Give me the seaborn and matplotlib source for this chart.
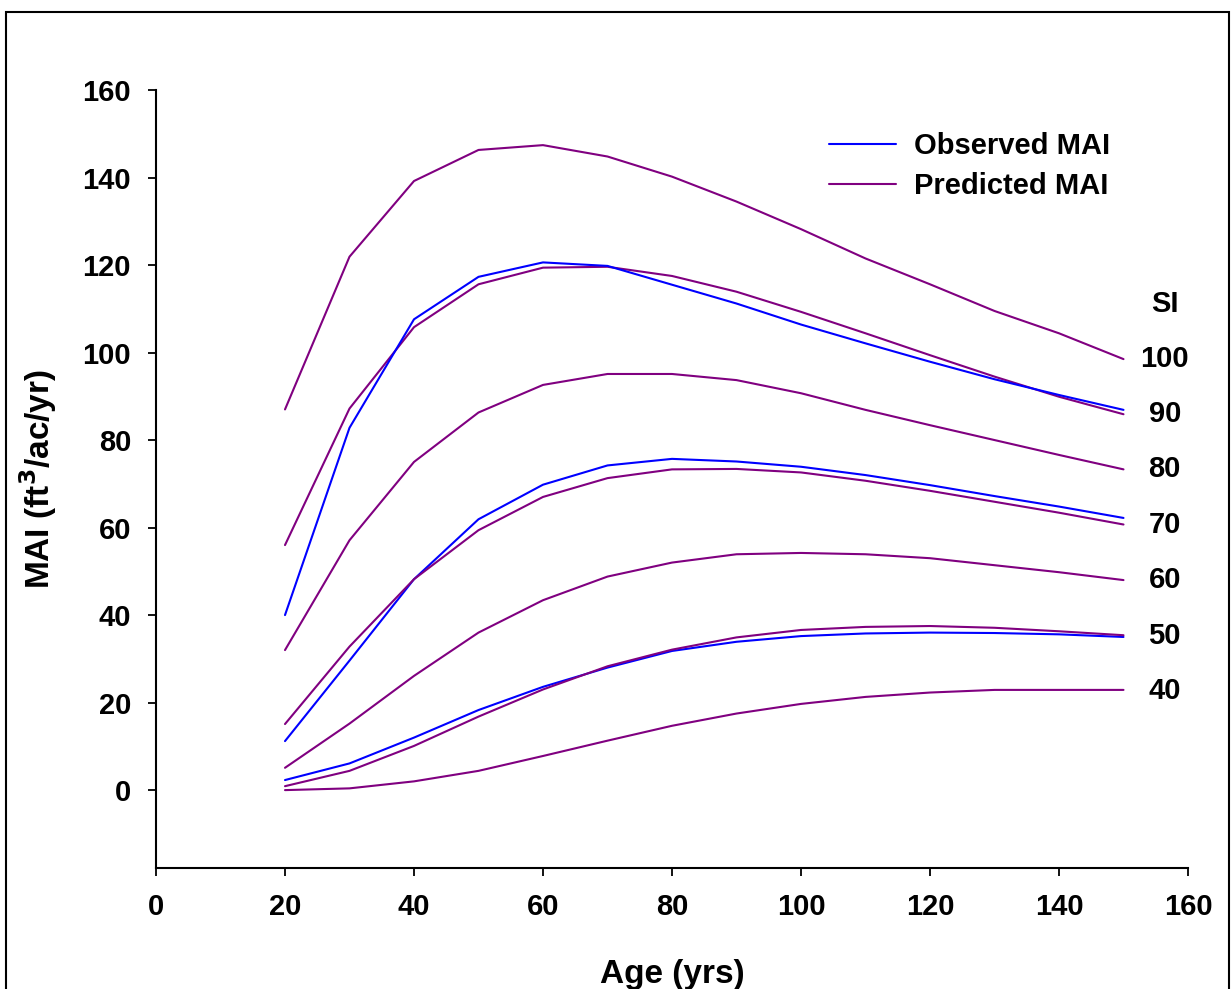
import matplotlib
matplotlib.use("Agg")
import matplotlib.pyplot as plt
import seaborn as sns
import pandas as pd
from matplotlib.lines import Line2D
from matplotlib.patches import Rectangle

ages = [20, 30, 40, 50, 60, 70, 80, 90, 100, 110, 120, 130, 140, 150]

pred_100 = [87.0, 121.9, 139.2, 146.3, 147.4, 144.8, 140.2, 134.5, 128.2, 121.5, 115.6, 109.5, 104.4, 98.5]
pred_90 = [56.0, 87.2, 105.8, 115.6, 119.4, 119.6, 117.5, 113.9, 109.3, 104.4, 99.4, 94.5, 89.9, 85.9]
obs_90 = [40.0, 82.8, 107.6, 117.3, 120.6, 119.8, 115.5, 111.2, 106.4, 102.1, 97.9, 93.9, 90.3, 86.9]
pred_80 = [32.0, 57.1, 75.0, 86.3, 92.6, 95.1, 95.1, 93.7, 90.7, 86.9, 83.4, 80.0, 76.6, 73.3]
obs_70 = [11.2, 29.6, 48.2, 61.9, 69.8, 74.2, 75.7, 75.1, 73.9, 72.0, 69.7, 67.2, 64.8, 62.2]
pred_70 = [15.1, 32.8, 48.2, 59.4, 67.0, 71.3, 73.3, 73.4, 72.6, 70.7, 68.4, 65.9, 63.4, 60.7]
pred_60 = [5.1, 15.2, 26.1, 36.0, 43.4, 48.8, 52.0, 53.9, 54.2, 53.9, 53.0, 51.4, 49.8, 48.0]
obs_50 = [2.3, 6.1, 12.0, 18.3, 23.6, 28.0, 31.8, 33.9, 35.2, 35.8, 36.0, 35.9, 35.6, 35.0]
pred_50 = [0.9, 4.4, 10.1, 16.8, 23.0, 28.3, 32.1, 34.9, 36.6, 37.3, 37.5, 37.1, 36.3, 35.4]
pred_40 = [0.0, 0.4, 2.0, 4.4, 7.8, 11.3, 14.7, 17.5, 19.7, 21.3, 22.3, 22.9, 22.9, 22.9]

si_labels = ["SI", "100", "90", "80", "70", "60", "50", "40"]
si_label_y = [111.0, 98.5, 86.0, 73.3, 60.6, 48.0, 35.3, 22.6]

x_ticks = [0, 20, 40, 60, 80, 100, 120, 140, 160]
y_ticks = [0, 20, 40, 60, 80, 100, 120, 140, 160]

series = [
    ("Predicted", "100", pred_100),
    ("Predicted", "90", pred_90),
    ("Observed", "90", obs_90),
    ("Predicted", "80", pred_80),
    ("Observed", "70", obs_70),
    ("Predicted", "70", pred_70),
    ("Predicted", "60", pred_60),
    ("Observed", "50", obs_50),
    ("Predicted", "50", pred_50),
    ("Predicted", "40", pred_40),
]

rows = []
for kind, si, vals in series:
    for a, v in zip(ages, vals):
        rows.append({"Age": a, "MAI": v, "kind": kind, "key": f"{kind} {si}"})
df = pd.DataFrame(rows)

BLUE = "#0000FF"
PURPLE = "#800080"
palette = {k: (BLUE if k.startswith("Observed") else PURPLE) for k in df["key"].unique()}

sns.set_style("ticks")
plt.rcParams["font.family"] = ["Liberation Sans", "DejaVu Sans"]
plt.rcParams["font.weight"] = "bold"
plt.rcParams["text.color"] = "black"
plt.rcParams["axes.labelcolor"] = "black"
plt.rcParams["xtick.color"] = "black"
plt.rcParams["ytick.color"] = "black"

fig = plt.figure(figsize=(12.31, 9.89), dpi=100)
ax = fig.add_axes([156 / 1231, 1 - 868 / 989, (1188 - 156) / 1231, (868 - 90) / 989])

sns.lineplot(data=df, x="Age", y="MAI", hue="key", palette=palette,
             estimator=None, sort=False, linewidth=1.5, legend=False, ax=ax)

ax.set_xlim(0, 160)
ax.set_ylim(-17.8, 160)
ax.set_xticks(x_ticks)
ax.set_yticks(y_ticks)
ax.tick_params(axis="both", direction="out", length=6, width=1.3, labelsize=21,
               pad=12, colors="black", labelcolor="black")
for lab in ax.get_xticklabels() + ax.get_yticklabels():
    lab.set_fontweight("bold")
for s in ["top", "right"]:
    ax.spines[s].set_visible(False)
for s in ["left", "bottom"]:
    ax.spines[s].set_linewidth(1.5)
    ax.spines[s].set_color("black")

ax.set_xlabel("Age (yrs)", fontsize=24, fontweight="bold", labelpad=27, color="black")
ax.set_ylabel("MAI (ft$^{\\mathbf{3}}$/ac/yr)", fontsize=24, fontweight="bold",
              labelpad=17, color="black")

for lab, yv in zip(si_labels, si_label_y):
    ax.text(156.4, yv, lab, ha="center", va="center", fontsize=21, fontweight="bold",
            color="black", clip_on=False)

handles = [Line2D([], [], color=BLUE, linewidth=1.5),
           Line2D([], [], color=PURPLE, linewidth=1.5)]
leg = ax.legend(handles, ["Observed MAI", "Predicted MAI"], loc="upper left",
                bbox_to_anchor=((829 - 156) / 1032, (868 - 132) / 778), frameon=False,
                prop={"weight": "bold", "size": 21}, handlelength=2.3,
                handletextpad=0.6, labelspacing=0.42, borderpad=0, borderaxespad=0)
for t in leg.get_texts():
    t.set_color("black")

fig.patches.append(Rectangle((6 / 1231, -0.05), (1229 - 6) / 1231, 1.05 - 12 / 989,
                             transform=fig.transFigure, fill=False, edgecolor="black",
                             linewidth=1.5, zorder=0))

fig.savefig("out.png", dpi=100)
